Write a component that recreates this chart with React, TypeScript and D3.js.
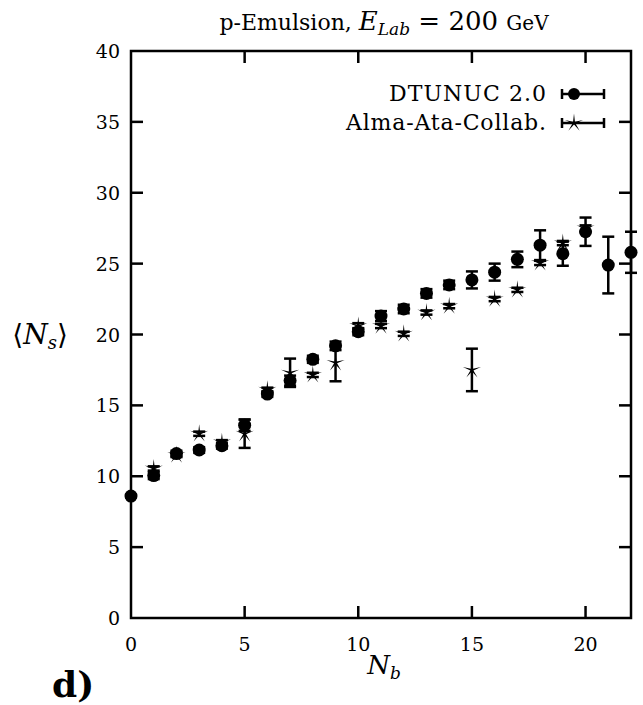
import React from "react";
import * as d3 from "d3";

const nb = [0, 1, 2, 3, 4, 5, 6, 7, 8, 9, 10, 11, 12, 13, 14, 15, 16, 17, 18, 19, 20, 21, 22];
const dtunucNs = [8.6, 10.05, 11.6, 11.85, 12.15, 13.6, 15.8, 16.75, 18.25, 19.2, 20.2, 21.3, 21.8, 22.9, 23.5, 23.85, 24.4, 25.3, 26.3, 25.7, 27.25, 24.9, 25.8];
const dtunucErr = [0.1, 0.25, 0.2, 0.2, 0.2, 0.4, 0.2, 0.35, 0.25, 0.3, 0.25, 0.35, 0.3, 0.3, 0.3, 0.6, 0.6, 0.55, 1.05, 0.85, 1.0, 2.0, 1.45];

const almaNb = [1, 2, 3, 4, 5, 6, 7, 8, 9, 10, 11, 12, 13, 14, 15, 16, 17, 18, 19, 20];
const almaNs = [10.55, 11.5, 13.0, 12.4, 13.0, 16.1, 17.3, 17.15, 18.0, 20.6, 20.6, 20.05, 21.55, 22.0, 17.5, 22.5, 23.15, 25.05, 26.45, 27.5];
const almaErr = [0.15, 0.15, 0.15, 0.15, 1.0, 0.15, 1.0, 0.15, 1.3, 0.2, 0.15, 0.15, 0.15, 0.15, 1.5, 0.15, 0.15, 0.15, 0.15, 0.2];

const xTicks = [0, 5, 10, 15, 20];
const yTicks = [0, 5, 10, 15, 20, 25, 30, 35, 40];
const legendLabels = ["DTUNUC 2.0", "Alma-Ata-Collab."];
const legendWidths = [157, 200];

const FONT = "'DejaVu Serif', 'Liberation Serif', serif";

function starPath(cx: number, cy: number, R: number, r: number) {
  const pts: string[] = [];
  for (let i = 0; i < 10; i++) {
    const a = -Math.PI / 2 + (i * Math.PI) / 5;
    const rad = i % 2 === 0 ? R : r;
    pts.push(`${cx + rad * Math.cos(a)},${cy + rad * Math.sin(a)}`);
  }
  return "M" + pts.join("L") + "Z";
}

export default function App() {
  const x = d3.scaleLinear().domain([0, 22]).range([131, 631]);
  const y = d3.scaleLinear().domain([0, 40]).range([618, 51]);
  const cap = 6;
  const sw = 2.5;
  const tickLen = 12;

  const errBar = (xv: number, yv: number, e: number, key: string) => {
    const px = x(xv);
    const y1 = y(yv + e);
    const y2 = y(yv - e);
    return (
      <g key={key} stroke="#000" strokeWidth={sw}>
        <line x1={px} x2={px} y1={y1} y2={y2} />
        <line x1={px - cap} x2={px + cap} y1={y1} y2={y1} />
        <line x1={px - cap} x2={px + cap} y1={y2} y2={y2} />
      </g>
    );
  };

  const [x0, x1] = x.range();
  const [y0, y1] = y.range();

  return (
    <svg width={643} height={705} style={{ position: "absolute", left: 0, top: 0, background: "#fff" }} fontFamily={FONT}>
      <rect x={0} y={0} width={643} height={705} fill="#fff" />
      {/* title */}
      <text x={384} y={30} textAnchor="middle" fontSize={22}>
        <tspan>p-Emulsion, </tspan>
        <tspan fontStyle="italic" fontSize={26}>E</tspan>
        <tspan fontStyle="italic" fontSize={17} dy={5}>Lab</tspan>
        <tspan dy={-5} fontSize={26}> = 200 </tspan>
        <tspan fontSize={20}>GeV</tspan>
      </text>

      {/* frame */}
      <rect x={x0} y={y1} width={x1 - x0} height={y0 - y1} fill="none" stroke="#000" strokeWidth={2.5} />

      {/* ticks */}
      {xTicks.map((t) => (
        <g key={"xt" + t}>
          {t > 0 && (
            <>
              <line x1={x(t)} x2={x(t)} y1={y0} y2={y0 - tickLen} stroke="#000" strokeWidth={2.5} />
              <line x1={x(t)} x2={x(t)} y1={y1} y2={y1 + tickLen} stroke="#000" strokeWidth={2.5} />
            </>
          )}
          <text x={x(t)} y={651} textAnchor="middle" fontSize={19}>{t}</text>
        </g>
      ))}
      {yTicks.map((t) => (
        <g key={"yt" + t}>
          {t > 0 && t < 40 && (
            <>
              <line x1={x0} x2={x0 + tickLen} y1={y(t)} y2={y(t)} stroke="#000" strokeWidth={2.5} />
              <line x1={x1} x2={x1 - tickLen} y1={y(t)} y2={y(t)} stroke="#000" strokeWidth={2.5} />
            </>
          )}
          <text x={120} y={y(t) + 7} textAnchor="end" fontSize={19}>{t}</text>
        </g>
      ))}

      {/* axis labels */}
      <text x={40} y={344} textAnchor="middle" fontSize={28}>
        <tspan>⟨</tspan>
        <tspan fontStyle="italic">N</tspan>
        <tspan fontStyle="italic" fontSize={18} dy={5}>s</tspan>
        <tspan dy={-5}>⟩</tspan>
      </text>
      <text x={384} y={674} textAnchor="middle" fontSize={26}>
        <tspan fontStyle="italic">N</tspan>
        <tspan fontStyle="italic" fontSize={17} dy={5}>b</tspan>
      </text>
      <text x={52} y={697} fontSize={36} fontWeight="bold">d)</text>

      {/* DTUNUC error bars and circles */}
      {nb.map((v, i) => errBar(v, dtunucNs[i], dtunucErr[i], "de" + i))}
      {nb.map((v, i) => (
        <circle key={"dc" + i} cx={x(v)} cy={y(dtunucNs[i])} r={6.5} fill="#000" />
      ))}

      {/* Alma-Ata error bars and stars */}
      {almaNb.map((v, i) => errBar(v, almaNs[i], almaErr[i], "ae" + i))}
      {almaNb.map((v, i) => (
        <path key={"as" + i} d={starPath(x(v), y(almaNs[i]), 9.5, 1.6)} fill="#000" />
      ))}

      {/* legend */}
      {legendLabels.map((lab, i) => {
        const ly = 94 + i * 29;
        return (
          <g key={"lg" + i}>
            <text x={546} y={ly + 7} textAnchor="end" fontSize={22} textLength={legendWidths[i]} lengthAdjust="spacing">{lab}</text>
            <g stroke="#000" strokeWidth={sw}>
              <line x1={562} x2={604} y1={ly} y2={ly} />
              <line x1={562} x2={562} y1={ly - 5} y2={ly + 5} />
              <line x1={604} x2={604} y1={ly - 5} y2={ly + 5} />
            </g>
            {i === 0 ? (
              <circle cx={574} cy={ly} r={6} fill="#000" />
            ) : (
              <path d={starPath(574, ly, 9.5, 1.6)} fill="#000" />
            )}
          </g>
        );
      })}
    </svg>
  );
}
